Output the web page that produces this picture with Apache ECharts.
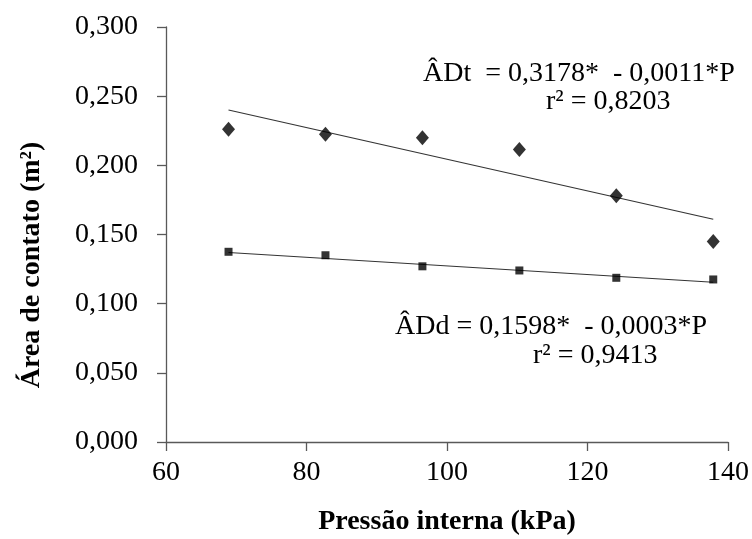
<!DOCTYPE html>
<html><head><meta charset="utf-8">
<script src="https://cdn.jsdelivr.net/npm/echarts@6/dist/echarts.min.js"></script>
<style>html,body{margin:0;padding:0;background:#fff}#c{width:752px;height:539px}</style>
</head><body><div id="c"></div>
<script>
const pressure = [68.9, 82.7, 96.5, 110.3, 124.1, 137.9];
const adtValues = [0.226, 0.2225, 0.220, 0.2115, 0.178, 0.145];
const addValues = [0.1375, 0.135, 0.127, 0.124, 0.1187, 0.1175];
const adtTrendX = [68.9, 137.9];
const adtTrendY = [0.240, 0.161];
const addTrendX = [68.9, 137.9];
const addTrendY = [0.137, 0.1155];
const xTitle = 'Pressão interna (kPa)';
const yTitle = 'Área de contato (m²)';
const adtEq = 'ÂDt  = 0,3178*  - 0,0011*P';
const adtR2 = 'r² = 0,8203';
const addEq = 'ÂDd = 0,1598*  - 0,0003*P';
const addR2 = 'r² = 0,9413';

const font = '"Liberation Serif", "Times New Roman", serif';
const axisColor = '#595959';
const zip = (a, b) => a.map((v, i) => [v, b[i]]);

const chart = echarts.init(document.getElementById('c'));
chart.setOption({
  animation: false,
  grid: {left: 166, right: 24, top: 27, bottom: 97, containLabel: false, outerBoundsMode: 'none'},
  xAxis: {
    type: 'value', min: 60, max: 140, interval: 20,
    name: xTitle, nameLocation: 'middle', nameGap: 66,
    nameTextStyle: {fontFamily: font, fontSize: 28, fontWeight: 'bold', color: '#000'},
    axisLine: {show: true, lineStyle: {color: axisColor, width: 1.3}},
    axisTick: {show: true, length: 9, lineStyle: {color: axisColor, width: 1.3}},
    axisLabel: {fontFamily: font, fontSize: 28, color: '#000', margin: 17},
    splitLine: {show: false}
  },
  yAxis: {
    type: 'value', min: 0, max: 0.3, interval: 0.05,
    axisLine: {show: true, lineStyle: {color: axisColor, width: 1.3}},
    axisTick: {show: true, length: 9, lineStyle: {color: axisColor, width: 1.3}},
    axisLabel: {fontFamily: font, fontSize: 28, color: '#000', margin: 28,
      formatter: v => v.toFixed(3).replace('.', ',')},
    splitLine: {show: false}
  },
  series: [
    {type: 'line', data: zip(adtTrendX, adtTrendY), symbol: 'none',
     lineStyle: {color: '#333', width: 1.2}, z: 1},
    {type: 'line', data: zip(addTrendX, addTrendY), symbol: 'none',
     lineStyle: {color: '#333', width: 1.2}, z: 1},
    {type: 'scatter', data: zip(pressure, adtValues), symbol: 'diamond',
     symbolSize: [13, 15], itemStyle: {color: '#000'}, z: 3},
    {type: 'scatter', data: zip(pressure, addValues), symbol: 'rect',
     symbolSize: 8, itemStyle: {color: '#000'}, z: 3}
  ],
  graphic: [
    {type: 'text', x: 32, y: 265, rotation: Math.PI / 2,
     style: {text: yTitle, font: 'bold 28px ' + font, fill: '#000', align: 'center', verticalAlign: 'middle'}},
    {type: 'text', left: 423, top: 60, style: {text: adtEq, font: '28px ' + font, fill: '#000'}},
    {type: 'text', left: 546, top: 88, style: {text: adtR2, font: '28px ' + font, fill: '#000'}},
    {type: 'text', left: 395, top: 313, style: {text: addEq, font: '28px ' + font, fill: '#000'}},
    {type: 'text', left: 533, top: 342, style: {text: addR2, font: '28px ' + font, fill: '#000'}}
  ]
});
</script></body></html>
